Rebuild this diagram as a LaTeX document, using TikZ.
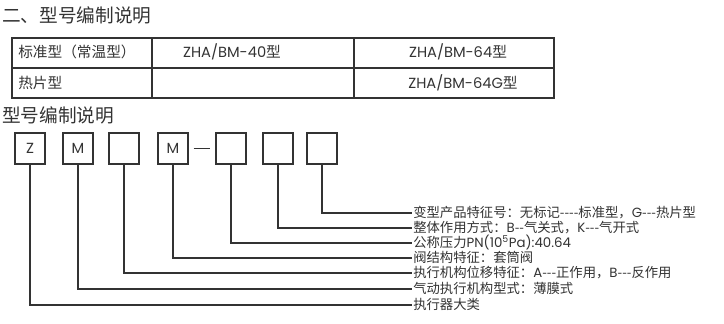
\documentclass[tikz,border=0pt]{standalone}
\usepackage{fontspec}
\setmainfont{Noto Sans CJK SC}
\newfontfamily\geo{Poppins}
\usepackage{tikz}
\definecolor{ink}{HTML}{333333}
\newcommand{\latn}[1]{{\geo #1}}
\tikzstyle{codebox} = [rectangle, draw=ink, line width=1pt, minimum width=22.5pt, minimum height=23.25pt, inner sep=0pt, text=ink, font=\geo\fontsize{11}{13}\selectfont]
\tikzstyle{note} = [anchor=west, inner sep=0pt, text height=7.5pt, text depth=1.5pt, text=ink, font=\fontsize{10}{12}\selectfont]
\tikzstyle{cell} = [inner sep=0pt, text=ink, font=\fontsize{11}{13}\selectfont]
\tikzstyle{heading} = [anchor=west, inner sep=0pt, text=ink, font=\fontsize{14}{16}\selectfont]
\tikzstyle{wire} = [draw=ink, line width=1pt]

\begin{document}
\begin{tikzpicture}[x=0.75pt, y=-0.75pt]
    \useasboundingbox (0,0) rectangle (724,324);

    % Titel
    \node (title) [heading] at (2,15) {二、型号编制说明};

    % Tabelle
    \draw [ink, line width=1.4pt] (12,38) rectangle (554,98);
    \draw [wire] (12,68) -- (554,68);
    \draw [wire] (152,38) -- (152,98);
    \draw [wire] (354,38) -- (354,98);
    \node (std) [cell, anchor=west] at (18,52) {标准型（常温型）};
    \node (hot) [cell, anchor=west] at (18,83) {热片型};
    \node (std40) [cell] at (232,52) {\latn{ZHA/BM-40}型};
    \node (std64) [cell] at (458,52) {\latn{ZHA/BM-64}型};
    \node (hot64) [cell] at (463,83) {\latn{ZHA/BM-64G}型};

    % Untertitel
    \node (subtitle) [heading] at (2,115) {型号编制说明};

    % Kaesten
    \node (b1) [codebox] at (30,148.5) {Z};
    \node (b2) [codebox] at (78,148.5) {M};
    \node (b3) [codebox] at (124,148.5) {};
    \node (b4) [codebox] at (173,148.5) {M};
    \node (b5) [codebox] at (231,148.5) {};
    \node (b6) [codebox] at (278,148.5) {};
    \node (b7) [codebox] at (322,148.5) {};
    \draw [wire] ([xshift=3.75pt]b4.east) -- ([xshift=-3.75pt]b5.west);

    % Erlaeuterungen
    \node (l1) [note] at (413,213) {变型产品特征号：无标记-{}-{}-{}-标准型，\latn{G}-{}-{}-热片型};
    \node (l2) [note] at (413,228) {整体作用方式：\latn{B}-{}-气关式，\latn{K}-{}-{}-气开式};
    \node (l3) [note] at (413,243) {公称压力\latn{PN(10\textsuperscript{5}Pa):40.64}};
    \node (l4) [note] at (413,258) {阀结构特征：套筒阀};
    \node (l5) [note] at (413,273) {执行机构位移特征：\latn{A}-{}-{}-正作用，\latn{B}-{}-{}-反作用};
    \node (l6) [note] at (413,289) {气动执行机构型式：薄膜式};
    \node (l7) [note] at (413,305) {执行器大类};

    % Linien
    \draw [wire] (b7.south) |- ([xshift=-0.75pt]l1.west);
    \draw [wire] (b6.south) |- ([xshift=-0.75pt]l2.west);
    \draw [wire] (b5.south) |- ([xshift=-0.75pt]l3.west);
    \draw [wire] (b4.south) |- ([xshift=-0.75pt]l4.west);
    \draw [wire] (b3.south) |- ([xshift=-0.75pt]l5.west);
    \draw [wire] (b2.south) |- ([xshift=-0.75pt]l6.west);
    \draw [wire] (b1.south) |- ([xshift=-0.75pt]l7.west);
\end{tikzpicture}
\end{document}
